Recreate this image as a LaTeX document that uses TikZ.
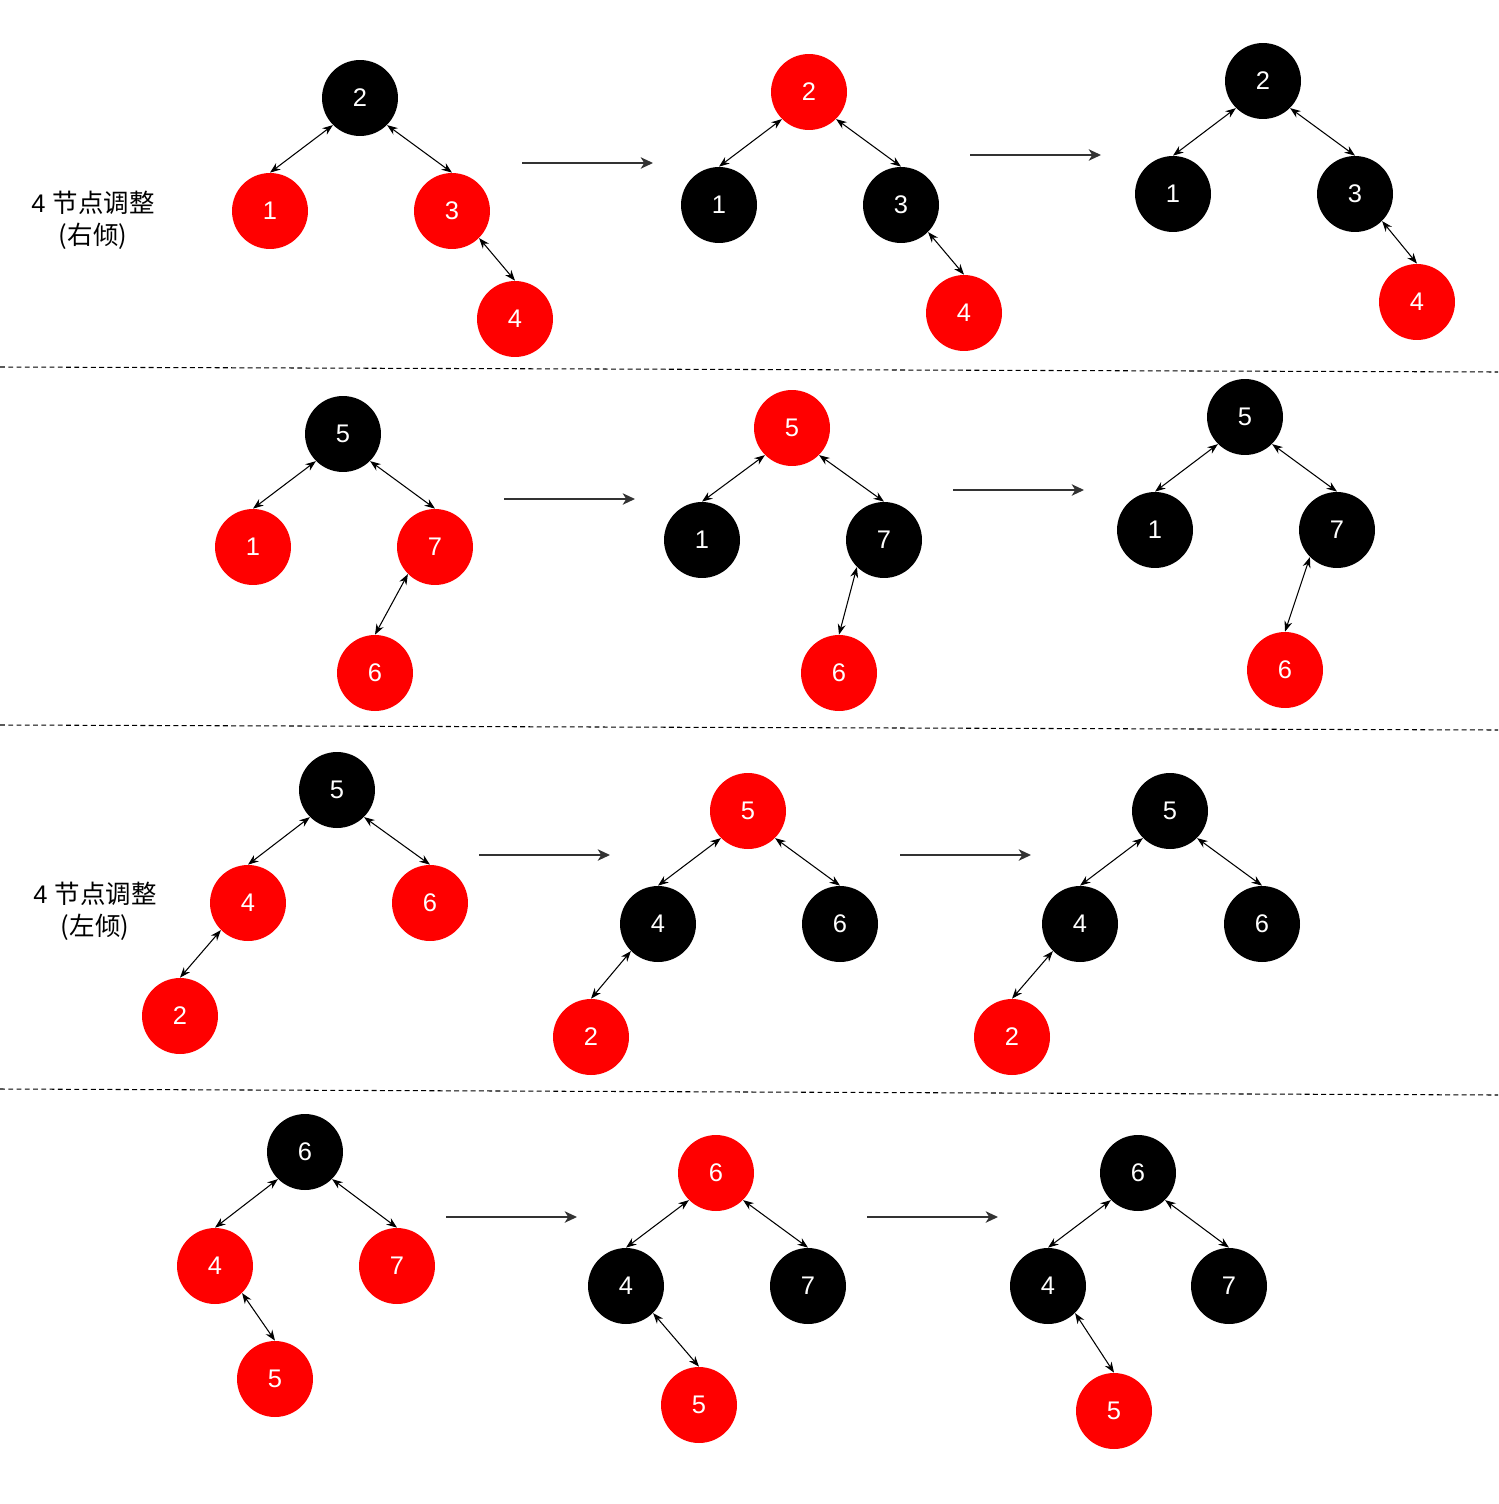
\documentclass[tikz,border=0pt]{standalone}
\usepackage{fontspec}
\setmainfont{Liberation Sans}
\newfontfamily\cjk{Noto Sans CJK SC}
\usepackage{xcolor}
\usetikzlibrary{arrows.meta,positioning}
\definecolor{rbred}{HTML}{FF0000}
\definecolor{stepgray}{HTML}{333333}

\begin{document}
\begin{tikzpicture}[
  x=0.02cm, y=-0.02cm,
  font=\fontsize{14.5}{18}\selectfont,
  nd/.style={circle, minimum size=1.52cm, inner sep=0pt, text=white},
  blk/.style={nd, fill=black},
  rd/.style={nd, fill=rbred},
  edge/.style={{Stealth[length=6pt,width=4.5pt]}-{Stealth[length=6pt,width=4.5pt]}, line width=0.6pt},
  move/.style={-{Stealth[length=7pt,width=6.5pt,inset=2pt]}, draw=stepgray, line width=0.9pt},
  sep/.style={dash pattern=on 2.8pt off 1.9pt, line width=0.6pt},
  lbl/.style={align=center},
]
\useasboundingbox (0,0) rectangle (1498,1504);

% row 1: 4-node split, leaning right
\node[lbl] (lr) at (93,220) {4 \cjk 节点调整\\\cjk(右倾)};
\node[blk] (A2) at (360,98) {2};
\node[rd] (A1) at (270,211) {1};
\node[rd] (A3) at (452,211) {3};
\node[rd] (A4) at (515,319) {4};
\node[rd] (B2) at (809,92) {2};
\node[blk] (B1) at (719,205) {1};
\node[blk] (B3) at (901,205) {3};
\node[rd] (B4) at (964,313) {4};
\node[blk] (C2) at (1263,81) {2};
\node[blk] (C1) at (1173,194) {1};
\node[blk] (C3) at (1355,194) {3};
\node[rd] (C4) at (1417,302) {4};
\draw[edge] (A2.south west) -- (A1.north); \draw[edge] (A2.south east) -- (A3.north); \draw[edge] (A3.south east) -- (A4.north);
\draw[edge] (B2.south west) -- (B1.north); \draw[edge] (B2.south east) -- (B3.north); \draw[edge] (B3.south east) -- (B4.north);
\draw[edge] (C2.south west) -- (C1.north); \draw[edge] (C2.south east) -- (C3.north); \draw[edge] (C3.south east) -- (C4.north);
\coordinate (m1s) at (522,163); \coordinate (m1e) at (653,163);
\coordinate (m2s) at (970,155); \coordinate (m2e) at (1101,155);
\draw[move] (m1s) -- (m1e);
\draw[move] (m2s) -- (m2e);

\coordinate (s1l) at (0,367); \coordinate (s1r) at (1498,372);
\draw[sep] (s1l) -- (s1r);

% row 2
\node[blk] (D5) at (343,434) {5};
\node[rd] (D1) at (253,547) {1};
\node[rd] (D7) at (435,547) {7};
\node[rd] (D6) at (375,673) {6};
\node[rd] (E5) at (792,428) {5};
\node[blk] (E1) at (702,540) {1};
\node[blk] (E7) at (884,540) {7};
\node[rd] (E6) at (839,673) {6};
\node[blk] (F5) at (1245,417) {5};
\node[blk] (F1) at (1155,530) {1};
\node[blk] (F7) at (1337,530) {7};
\node[rd] (F6) at (1285,670) {6};
\draw[edge] (D5.south west) -- (D1.north); \draw[edge] (D5.south east) -- (D7.north); \draw[edge] (D7.south west) -- (D6.north);
\draw[edge] (E5.south west) -- (E1.north); \draw[edge] (E5.south east) -- (E7.north); \draw[edge] (E7.south west) -- (E6.north);
\draw[edge] (F5.south west) -- (F1.north); \draw[edge] (F5.south east) -- (F7.north); \draw[edge] (F7.south west) -- (F6.north);
\coordinate (m3s) at (504,499); \coordinate (m3e) at (635,499);
\coordinate (m4s) at (953,490); \coordinate (m4e) at (1084,490);
\draw[move] (m3s) -- (m3e);
\draw[move] (m4s) -- (m4e);

\coordinate (s2l) at (0,725); \coordinate (s2r) at (1498,730);
\draw[sep] (s2l) -- (s2r);

% row 3: 4-node split, leaning left
\node[lbl] (ll) at (95,911) {4 \cjk 节点调整\\\cjk(左倾)};
\node[blk] (G5) at (337,790) {5};
\node[rd] (G4) at (248,903) {4};
\node[rd] (G6) at (430,903) {6};
\node[rd] (G2) at (180,1016) {2};
\node[rd] (H5) at (748,811) {5};
\node[blk] (H4) at (658,924) {4};
\node[blk] (H6) at (840,924) {6};
\node[rd] (H2) at (591,1037) {2};
\node[blk] (I5) at (1170,811) {5};
\node[blk] (I4) at (1080,924) {4};
\node[blk] (I6) at (1262,924) {6};
\node[rd] (I2) at (1012,1037) {2};
\draw[edge] (G5.south west) -- (G4.north); \draw[edge] (G5.south east) -- (G6.north); \draw[edge] (G4.south west) -- (G2.north);
\draw[edge] (H5.south west) -- (H4.north); \draw[edge] (H5.south east) -- (H6.north); \draw[edge] (H4.south west) -- (H2.north);
\draw[edge] (I5.south west) -- (I4.north); \draw[edge] (I5.south east) -- (I6.north); \draw[edge] (I4.south west) -- (I2.north);
\coordinate (m5s) at (479,855); \coordinate (m5e) at (610,855);
\coordinate (m6s) at (900,855); \coordinate (m6e) at (1031,855);
\draw[move] (m5s) -- (m5e);
\draw[move] (m6s) -- (m6e);

\coordinate (s3l) at (0,1089); \coordinate (s3r) at (1498,1095);
\draw[sep] (s3l) -- (s3r);

% row 4
\node[blk] (J6) at (305,1152) {6};
\node[rd] (J4) at (215,1266) {4};
\node[rd] (J7) at (397,1266) {7};
\node[rd] (J5) at (275,1379) {5};
\node[rd] (K6) at (716,1173) {6};
\node[blk] (K4) at (626,1286) {4};
\node[blk] (K7) at (808,1286) {7};
\node[rd] (K5) at (699,1405) {5};
\node[blk] (L6) at (1138,1173) {6};
\node[blk] (L4) at (1048,1286) {4};
\node[blk] (L7) at (1229,1286) {7};
\node[rd] (L5) at (1114,1411) {5};
\draw[edge] (J6.south west) -- (J4.north); \draw[edge] (J6.south east) -- (J7.north); \draw[edge] (J4.south east) -- (J5.north);
\draw[edge] (K6.south west) -- (K4.north); \draw[edge] (K6.south east) -- (K7.north); \draw[edge] (K4.south east) -- (K5.north);
\draw[edge] (L6.south west) -- (L4.north); \draw[edge] (L6.south east) -- (L7.north); \draw[edge] (L4.south east) -- (L5.north);
\coordinate (m7s) at (446,1217); \coordinate (m7e) at (577,1217);
\coordinate (m8s) at (867,1217); \coordinate (m8e) at (998,1217);
\draw[move] (m7s) -- (m7e);
\draw[move] (m8s) -- (m8e);
\end{tikzpicture}
\end{document}
